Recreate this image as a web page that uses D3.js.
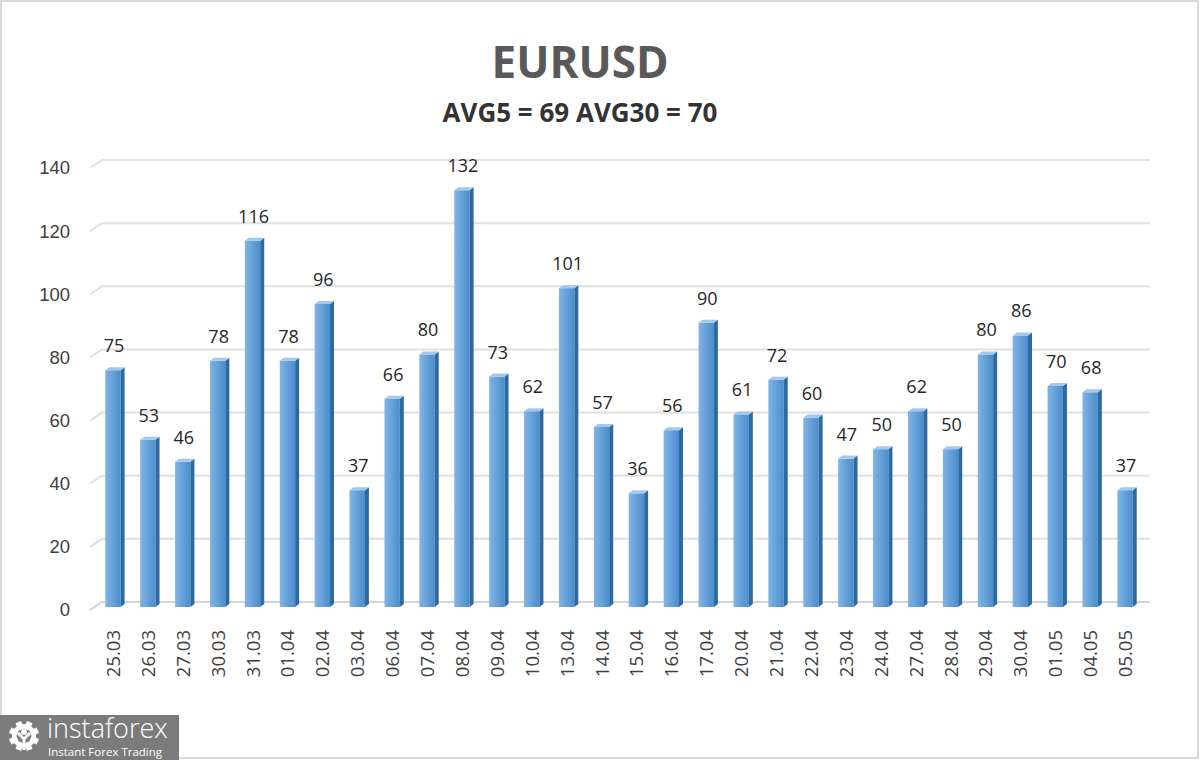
<!DOCTYPE html>
<html>
<head>
<meta charset="utf-8">
<script src="https://cdn.jsdelivr.net/npm/d3@7"></script>
<style>
  body { margin: 0; background: #fff; }
  svg { display: block; font-family: "Open Sans", "Noto Sans", sans-serif; }
  .tick-y { font-size: 18.5px; fill: #404040; }
  .tick-x { font-size: 18.5px; fill: #404040; }
  .value { font-size: 18px; fill: #262626; }
</style>
</head>
<body>
<svg id="chart" width="1200" height="760"></svg>
<script>
var dates = ["25.03","26.03","27.03","30.03","31.03","01.04","02.04","03.04","06.04","07.04",
             "08.04","09.04","10.04","13.04","14.04","15.04","16.04","17.04","20.04","21.04",
             "22.04","23.04","24.04","27.04","28.04","29.04","30.04","01.05","04.05","05.05"];
var values = [75,53,46,78,116,78,96,37,66,80,
              132,73,62,101,57,36,56,90,61,72,
              60,47,50,62,50,80,86,70,68,37];
var yTicks = [0,20,40,60,80,100,120,140];
var title = "EURUSD";
var subtitle = "AVG5 = 69 AVG30 = 70";

var svg = d3.select("#chart");

// frame
svg.append("rect")
    .attr("x", 1).attr("y", 1)
    .attr("width", 1197).attr("height", 757)
    .attr("fill", "#fff")
    .attr("stroke", "#d9d9d9")
    .attr("stroke-width", 2);

var defs = svg.append("defs");
var grad = defs.append("linearGradient")
    .attr("id", "front").attr("x1", "0").attr("x2", "1").attr("y1", "0").attr("y2", "0");
grad.append("stop").attr("offset", "0%").attr("stop-color", "#80b4e4");
grad.append("stop").attr("offset", "100%").attr("stop-color", "#4b8dcc");

var x = d3.scaleBand()
    .domain(dates)
    .range([95.5, 1142.5])
    .paddingInner(0.56)
    .paddingOuter(0.28);

var y = d3.scaleLinear()
    .domain([0, 140])
    .range([607, 165]);

var depthX = 12, depthY = -8;

// gridlines (back wall + floor slant)
var grid = svg.append("g").attr("class", "grid");
grid.selectAll("path")
  .data(yTicks)
  .enter().append("path")
    .attr("d", function(d) {
      var yf = y(d) + 3;
      return "M90," + yf + "L" + (90 + depthX) + "," + (yf + depthY) + "L1150," + (yf + depthY);
    })
    .attr("fill", "none")
    .attr("stroke", function(d) { return d === 0 ? "#d4d4d4" : "#e0e0e0"; })
    .attr("stroke-width", 2);

// y axis labels
var yAxis = d3.axisLeft(y).tickValues(yTicks).tickSize(0).tickPadding(0);
var yg = svg.append("g")
    .attr("transform", "translate(70,3)")
    .call(yAxis);
yg.select(".domain").remove();
yg.selectAll("text").attr("class", "tick-y").attr("font-family", null).attr("font-size", null);

// bars
var bw = x.bandwidth(), sx = 4, sy = -3;
var bar = svg.append("g").selectAll(".bar")
  .data(values)
  .enter().append("g")
    .attr("class", "bar")
    .attr("transform", function(d, i) { return "translate(" + x(dates[i]) + ",0)"; });

bar.append("rect")
    .attr("x", 0)
    .attr("y", function(d) { return y(d); })
    .attr("width", bw)
    .attr("height", function(d) { return y(0) - y(d); })
    .attr("fill", "url(#front)");

bar.append("path")
    .attr("d", function(d) {
      return "M" + bw + "," + y(d) + "L" + (bw + sx) + "," + (y(d) + sy) +
             "L" + (bw + sx) + "," + (y(0) + sy) + "L" + bw + "," + y(0) + "Z";
    })
    .attr("fill", "#2e6aa2");

bar.append("path")
    .attr("d", function(d) {
      return "M0," + y(d) + "L" + sx + "," + (y(d) + sy) +
             "L" + (bw + sx) + "," + (y(d) + sy) + "L" + bw + "," + y(d) + "Z";
    })
    .attr("fill", "#a3c8ec");

bar.append("text")
    .attr("class", "value")
    .attr("x", bw / 2 + 1)
    .attr("y", function(d) { return y(d) - 18; })
    .attr("text-anchor", "middle")
    .text(function(d) { return d; });

// x axis labels (rotated)
svg.append("g").selectAll("text")
  .data(dates)
  .enter().append("text")
    .attr("class", "tick-x")
    .attr("transform", function(d) {
      return "translate(" + (x(d) + bw / 2 + 7) + ",630) rotate(-90)";
    })
    .attr("text-anchor", "end")
    .text(function(d) { return d; });

// titles
svg.append("text")
    .attr("x", 580).attr("y", 78)
    .attr("text-anchor", "middle")
    .attr("font-size", 44).attr("font-weight", "bold")
    .attr("fill", "#595959")
    .text(title);

svg.append("text")
    .attr("x", 580).attr("y", 122)
    .attr("text-anchor", "middle")
    .attr("font-size", 26).attr("font-weight", "bold")
    .attr("fill", "#333")
    .text(subtitle);

// logo
var logo = svg.append("g");
logo.append("rect")
    .attr("x", 0).attr("y", 715)
    .attr("width", 179).attr("height", 45)
    .attr("fill", "#7b7b7b");
var gear = logo.append("g").attr("transform", "translate(24,736)");
d3.range(8).forEach(function(i) {
  gear.append("rect")
      .attr("x", -3).attr("y", -15)
      .attr("width", 6).attr("height", 8)
      .attr("fill", "#fff")
      .attr("transform", "rotate(" + (i * 45 - 22.5) + ")");
});
gear.append("circle").attr("r", 10).attr("fill", "none").attr("stroke", "#fff").attr("stroke-width", 4);
gear.append("circle").attr("cy", -4).attr("r", 3).attr("fill", "#fff");
gear.append("path")
    .attr("d", "M-6,-3L0,3L6,-3M0,3L0,14")
    .attr("fill", "none").attr("stroke", "#fff").attr("stroke-width", 3);
logo.append("text")
    .attr("x", 47).attr("y", 738)
    .attr("font-size", 27).attr("fill", "#fff")
    .attr("font-weight", 300)
    .text("instaforex");
logo.append("text")
    .attr("x", 48).attr("y", 756)
    .attr("font-size", 11.5).attr("fill", "#fff")
    .text("Instant Forex Trading");
</script>
</body>
</html>
